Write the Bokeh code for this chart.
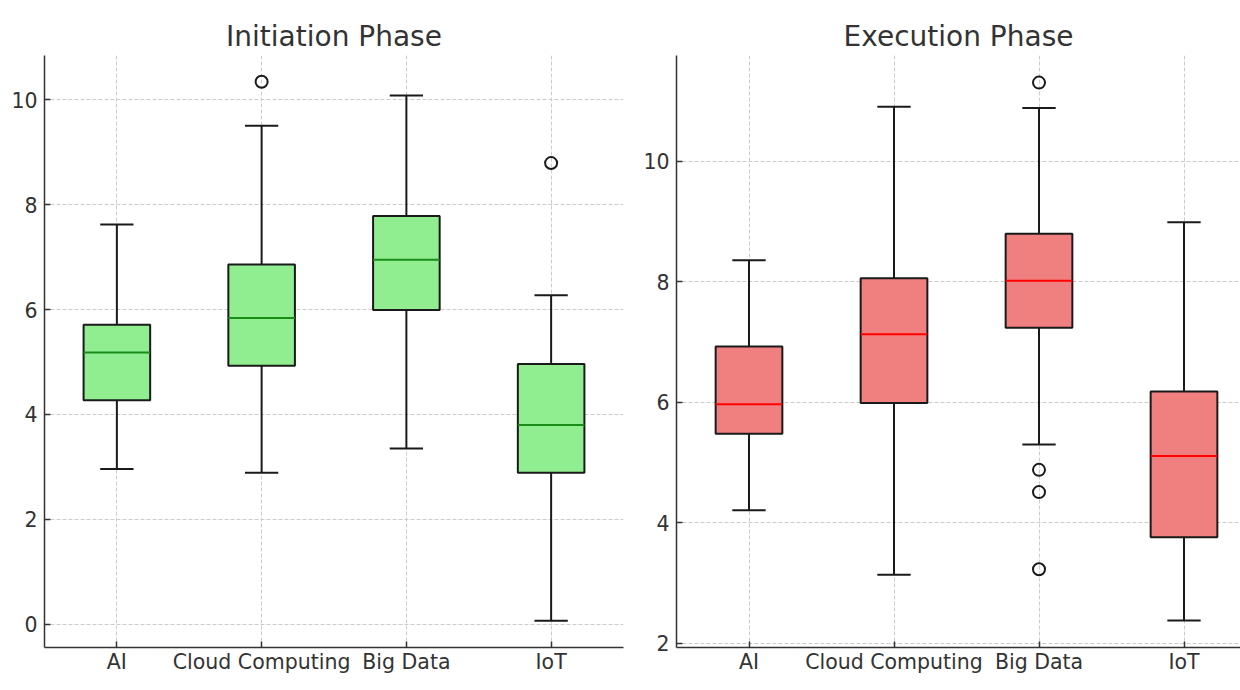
from bokeh.plotting import figure
from bokeh.layouts import row
from bokeh.models import FixedTicker, Range1d
from bokeh.embed import file_html
from bokeh.resources import INLINE

categories = ["AI", "Cloud Computing", "Big Data", "IoT"]

# Initiation Phase
init_whislo = [2.96, 2.89, 3.35, 0.07]
init_q1 = [4.27, 4.93, 5.99, 2.89]
init_med = [5.18, 5.84, 6.95, 3.80]
init_q3 = [5.71, 6.86, 7.78, 4.96]
init_whishi = [7.62, 9.50, 10.08, 6.27]
init_out_cat = ["Cloud Computing", "IoT"]
init_out_val = [10.34, 8.79]

# Execution Phase
exec_whislo = [4.21, 3.14, 5.30, 2.38]
exec_q1 = [5.48, 5.99, 7.24, 3.76]
exec_med = [5.97, 7.13, 8.02, 5.11]
exec_q3 = [6.93, 8.06, 8.80, 6.18]
exec_whishi = [8.36, 10.91, 10.89, 8.99]
exec_out_cat = ["Big Data", "Big Data", "Big Data", "Big Data"]
exec_out_val = [11.31, 4.88, 4.51, 3.23]

FONT = "DejaVu Sans"
TXT = "#333333"
BOX_W = 0.46


def make_panel(title, whislo, q1, med, q3, whishi, out_cat, out_val,
               fill, med_color, yr, yticks, x_end, frame_w, border_l, border_r):
    p = figure(frame_width=frame_w, frame_height=592,
               x_range=Range1d(0.5, x_end), y_range=Range1d(*yr),
               output_backend="svg", toolbar_location=None,
               min_border_left=border_l, min_border_right=border_r,
               min_border_top=55, min_border_bottom=43)
    p.outline_line_color = None
    p.background_fill_color = "white"
    p.border_fill_color = "white"

    p.title.text = title
    p.title.text_font = FONT
    p.title.text_font_size = "28px"
    p.title.text_font_style = "normal"
    p.title.text_color = TXT
    p.title.align = "center"
    p.title.standoff = 6

    xs = [categories.index(c) + 1 for c in categories]
    pos = {c: i + 1 for i, c in enumerate(categories)}

    # grid
    for g in (p.xgrid, p.ygrid):
        g.grid_line_color = "#cccccc"
        g.grid_line_dash = "4 2"
        g.grid_line_width = 1

    # axes
    p.xaxis.ticker = FixedTicker(ticks=xs)
    p.xaxis.major_label_overrides = {x: c for x, c in zip(xs, categories)}
    p.yaxis.ticker = FixedTicker(ticks=yticks)
    for ax in (p.xaxis, p.yaxis):
        ax.axis_line_color = "#333333"
        ax.axis_line_width = 1.5
        ax.major_tick_line_color = "#333333"
        ax.major_tick_line_width = 1.5
        ax.major_tick_in = 6
        ax.major_tick_out = 0
        ax.minor_tick_line_color = None
        ax.major_label_text_font = FONT
        ax.major_label_text_font_size = "20.5px"
        ax.major_label_text_color = TXT
    p.xaxis.major_label_standoff = 2
    p.yaxis.major_label_standoff = 7

    # whiskers
    p.segment(x0=xs, y0=q3, x1=xs, y1=whishi, line_color="#1a1a1a", line_width=2)
    p.segment(x0=xs, y0=q1, x1=xs, y1=whislo, line_color="#1a1a1a", line_width=2)
    cap = BOX_W / 4
    p.segment(x0=[x - cap for x in xs], y0=whishi, x1=[x + cap for x in xs], y1=whishi,
              line_color="#1a1a1a", line_width=2)
    p.segment(x0=[x - cap for x in xs], y0=whislo, x1=[x + cap for x in xs], y1=whislo,
              line_color="#1a1a1a", line_width=2)
    # boxes
    p.vbar(x=xs, width=BOX_W, bottom=q1, top=q3, fill_color=fill,
           line_color="#1a1a1a", line_width=2)
    # medians
    hw = BOX_W / 2
    p.segment(x0=[x - hw for x in xs], y0=med, x1=[x + hw for x in xs], y1=med,
              line_color=med_color, line_width=2)
    # outliers
    p.scatter(x=[pos[c] for c in out_cat], y=out_val, marker="circle", size=12,
              fill_color=None, line_color="#1a1a1a", line_width=2)
    return p


p1 = make_panel("Initiation Phase", init_whislo, init_q1, init_med, init_q3, init_whishi,
                init_out_cat, init_out_val, "#90EE90", "#1a8c1a",
                (-0.44, 10.84), [0, 2, 4, 6, 8, 10], 4.5, 579, 44, 17)
p2 = make_panel("Execution Phase", exec_whislo, exec_q1, exec_med, exec_q3, exec_whishi,
                exec_out_cat, exec_out_val, "#F08080", "#ff0000",
                (1.93, 11.76), [2, 4, 6, 8, 10], 0.5 + 564 / 145.0, 564, 36, 0)

layout = row(p1, p2)
open("out.html", "w").write(file_html(layout, INLINE))
